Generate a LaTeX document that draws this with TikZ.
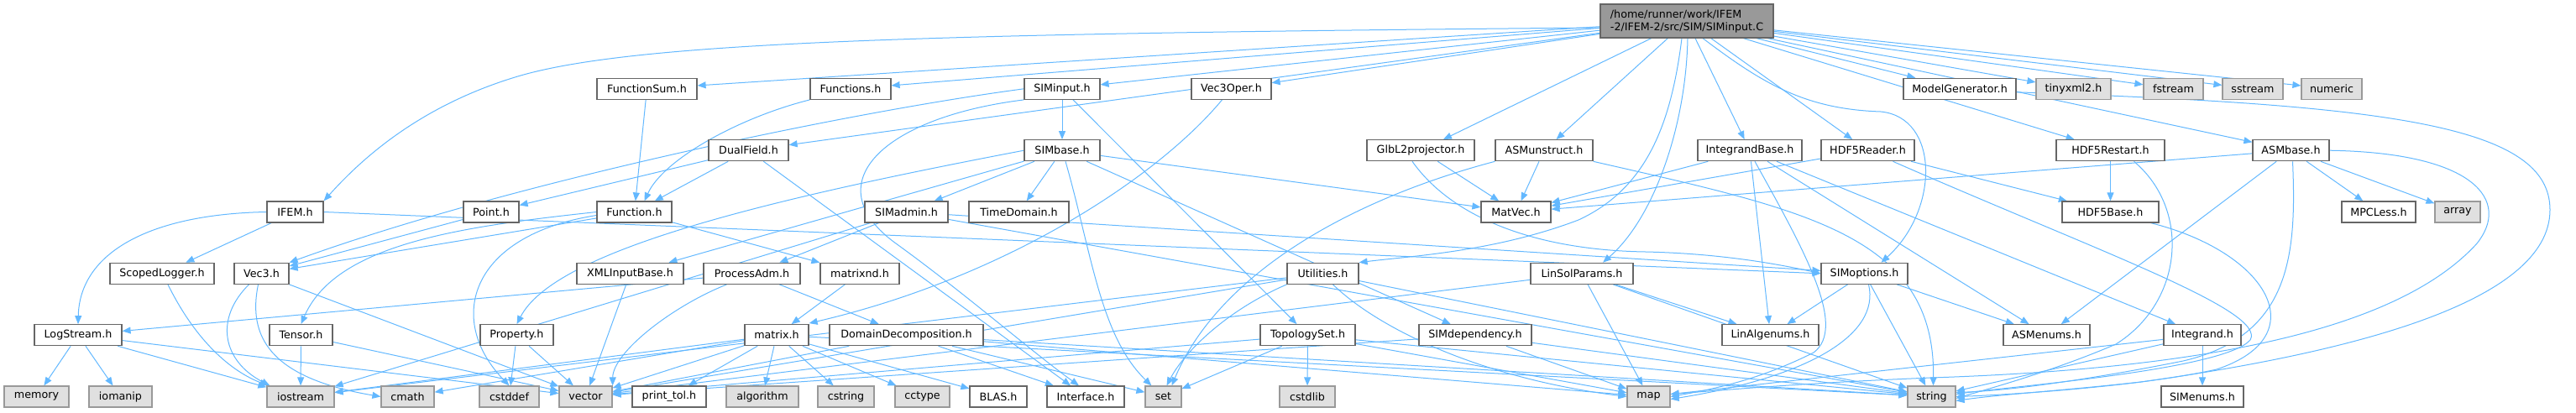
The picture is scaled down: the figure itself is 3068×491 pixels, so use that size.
\documentclass[tikz,border=0pt]{standalone}
\usepackage{fontspec}
\setmainfont{DejaVu Sans}
\usetikzlibrary{arrows.meta}
\definecolor{edgec}{HTML}{63B8FF}
\definecolor{bord}{HTML}{666666}
\definecolor{sysfill}{HTML}{E0E0E0}
\definecolor{sysbord}{HTML}{999999}
\definecolor{rootfill}{HTML}{999999}
\pgfdeclarelayer{background}
\pgfsetlayers{background,main}
\begin{document}
\begin{tikzpicture}[x=1pt,y=-1pt,
  box/.style={draw=bord, line width=1.2pt, fill=white, inner sep=0pt, minimum height=25pt,
    font=\fontsize{12.7}{15}\selectfont, anchor=center},
  sys/.style={box, draw=sysbord, fill=sysfill},
  edge/.style={draw=edgec, line width=1pt, -{Triangle[length=10pt,width=8pt]}}]
\useasboundingbox (0,0) rectangle (3068,491);
% root
\node[box, fill=rootfill, minimum width=206pt, minimum height=40pt, align=left] (root) at (2009,25) {/home/runner/work/IFEM\\-2/IFEM-2/src/SIM/SIMinput.C};
% row 1
\node[box, minimum width=119pt] (FunctionSum) at (770.5,105.8) {FunctionSum.h};
\node[box, minimum width=96pt] (Functions) at (1013,105.8) {Functions.h};
\node[box, minimum width=90pt] (SIMinput) at (1265,105.8) {SIMinput.h};
\node[box, minimum width=95pt] (Vec3Oper) at (1466.5,105.8) {Vec3Oper.h};
\node[box, minimum width=134pt] (ModelGenerator) at (2334,105.8) {ModelGenerator.h};
\node[sys, minimum width=89pt] (tinyxml2) at (2469.5,105.8) {tinyxml2.h};
\node[sys, minimum width=71pt] (fstream) at (2588.5,105.8) {fstream};
\node[sys, minimum width=72pt] (sstream) at (2683,105.8) {sstream};
\node[sys, minimum width=72pt] (numeric) at (2777,105.8) {numeric};
% row 2
\node[box, minimum width=95pt] (DualField) at (891.5,179.2) {DualField.h};
\node[box, minimum width=90pt] (SIMbase) at (1265,179.2) {SIMbase.h};
\node[box, minimum width=128pt] (GlbL2projector) at (1692,179.2) {GlbL2projector.h};
\node[box, minimum width=116pt] (ASMunstruct) at (1839,179.2) {ASMunstruct.h};
\node[box, minimum width=124pt] (IntegrandBase) at (2084,179.2) {IntegrandBase.h};
\node[box, minimum width=111pt] (HDF5Reader) at (2224.5,179.2) {HDF5Reader.h};
\node[box, minimum width=129pt] (HDF5Restart) at (2513.5,179.2) {HDF5Restart.h};
\node[box, minimum width=91pt] (ASMbase) at (2728.5,179.2) {ASMbase.h};
% row 3
\node[box, minimum width=67pt] (IFEM) at (351.5,252.5) {IFEM.h};
\node[box, minimum width=66pt] (Point) at (585,252.5) {Point.h};
\node[box, minimum width=89pt] (Function) at (755.5,252.5) {Function.h};
\node[box, minimum width=99pt] (SIMadmin) at (1079.5,252.5) {SIMadmin.h};
\node[box, minimum width=119pt] (TimeDomain) at (1213.5,252.5) {TimeDomain.h};
\node[box, minimum width=83pt] (MatVec) at (1805.5,252.5) {MatVec.h};
\node[box, minimum width=115pt] (HDF5Base) at (2513.5,252.5) {HDF5Base.h};
\node[box, minimum width=88pt] (MPCLess) at (2833,252.5) {MPCLess.h};
\node[sys, minimum width=54pt] (array) at (2927,252.5) {array};
% row 4
\node[box, minimum width=124pt] (ScopedLogger) at (193,325.8) {ScopedLogger.h};
\node[box, minimum width=65pt] (Vec3) at (311.5,325.8) {Vec3.h};
\node[box, minimum width=127pt] (XMLInputBase) at (750.5,325.8) {XMLInputBase.h};
\node[box, minimum width=115pt] (ProcessAdm) at (895.5,325.8) {ProcessAdm.h};
\node[box, minimum width=94pt] (matrixnd) at (1024,325.8) {matrixnd.h};
\node[box, minimum width=85pt] (Utilities) at (1575.5,325.8) {Utilities.h};
\node[box, minimum width=122pt] (LinSolParams) at (1884,325.8) {LinSolParams.h};
\node[box, minimum width=103pt] (SIMoptions) at (2220.5,325.8) {SIMoptions.h};
% row 5
\node[box, minimum width=104pt] (LogStream) at (93,399.2) {LogStream.h};
\node[box, minimum width=75pt] (Tensor) at (358.5,399.2) {Tensor.h};
\node[box, minimum width=87pt] (Property) at (615.5,399.2) {Property.h};
\node[box, minimum width=76pt] (matrix) at (925,399.2) {matrix.h};
\node[box, minimum width=183pt] (DomainDecomposition) at (1079.5,399.2) {DomainDecomposition.h};
\node[box, minimum width=113pt] (TopologySet) at (1557.5,399.2) {TopologySet.h};
\node[box, minimum width=134pt] (SIMdependency) at (1757,399.2) {SIMdependency.h};
\node[box, minimum width=115pt] (LinAlgenums) at (2108.5,399.2) {LinAlgenums.h};
\node[box, minimum width=103pt] (ASMenums) at (2437.5,399.2) {ASMenums.h};
\node[box, minimum width=92pt] (Integrand) at (2623,399.2) {Integrand.h};
% row 6
\node[sys, minimum width=77pt] (memory) at (43.5,472.5) {memory};
\node[sys, minimum width=75pt] (iomanip) at (143.5,472.5) {iomanip};
\node[sys, minimum width=80pt] (iostream) at (358,472.5) {iostream};
\node[sys, minimum width=63pt] (cmath) at (485.5,472.5) {cmath};
\node[sys, minimum width=71pt] (cstddef) at (606.5,472.5) {cstddef};
\node[sys, minimum width=63pt] (vector) at (697.5,472.5) {vector};
\node[box, minimum width=88pt] (printtol) at (797,472.5) {print\_tol.h};
\node[sys, minimum width=86pt] (algorithm) at (908,472.5) {algorithm};
\node[sys, minimum width=67pt] (cstring) at (1007.5,472.5) {cstring};
\node[sys, minimum width=65pt] (cctype) at (1098.5,472.5) {cctype};
\node[box, minimum width=68pt] (BLAS) at (1189,472.5) {BLAS.h};
\node[box, minimum width=92pt] (Interface) at (1293,472.5) {Interface.h};
\node[sys, minimum width=43pt] (set) at (1385.5,472.5) {set};
\node[sys, minimum width=66pt] (cstdlib) at (1557,472.5) {cstdlib};
\node[sys, minimum width=51pt] (map) at (1963.5,472.5) {map};
\node[sys, minimum width=57pt] (string) at (2300.5,472.5) {string};
\node[box, minimum width=98pt] (SIMenums) at (2623,472.5) {SIMenums.h};

\begin{pgfonlayer}{background}
% root edges
\foreach \t in {FunctionSum,Functions,SIMinput,Vec3Oper,DualField,GlbL2projector,ASMunstruct,IntegrandBase,HDF5Reader,HDF5Restart,ModelGenerator,tinyxml2,fstream,sstream,numeric,ASMbase}
  \draw[edge] (root) -- (\t);
\draw[edge] ([yshift=-8pt]root.west) .. controls (1100,40) and (760,50) .. (620,90) .. controls (500,125) and (430,190) .. (IFEM.north east);
\draw[edge] ([xshift=-6pt]root.south) .. controls (1990,150) and (1960,225) .. (1880,262) .. controls (1780,300) and (1680,305) .. (Utilities.north east);
\draw[edge] ([xshift=1pt]root.south) .. controls (2008,150) and (1970,260) .. ([xshift=25pt]LinSolParams.north);
\draw[edge] ([xshift=19pt]root.south) .. controls (2100,100) and (2150,130) .. (2240,133) .. controls (2310,140) and (2310,250) .. ([xshift=20pt]SIMoptions.north);
% IFEM
\draw[edge] (IFEM.west) .. controls (180,255) and (95,300) .. (LogStream.north);
\draw[edge] (IFEM) -- (ScopedLogger);
\draw[edge] (IFEM.east) -- (SIMoptions.west);
% loggers
\draw[edge] ([xshift=7pt]ScopedLogger.south) .. controls (230,400) and (270,440) .. ([xshift=2pt]iostream.north west);
\draw[edge] (LogStream) -- (memory);
\draw[edge] (LogStream) -- (iomanip);
\draw[edge] (LogStream) -- (iostream);
\draw[edge] (LogStream) -- (vector);
% Vec3, Tensor
\draw[edge] ([xshift=-15pt]Vec3.south) .. controls (255,380) and (265,430) .. ([xshift=4pt]iostream.north west);
\draw[edge] ([xshift=-4pt]Vec3.south) .. controls (295,400) and (320,450) .. (cmath.west);
\draw[edge] (Vec3.south east) -- (vector);
\draw[edge] (Tensor) -- (iostream);
\draw[edge] (Tensor) -- (vector);
% Point / Function
\draw[edge] (Point) -- (Vec3);
\draw[edge] (Function) -- (Vec3);
\draw[edge] (Function.west) .. controls (550,270) and (400,290) .. (Tensor.north);
\draw[edge] ([yshift=-4pt]Function.west) .. controls (560,280) and (530,380) .. (cstddef.north);
\draw[edge] (Function) -- (matrixnd);
\draw[edge] (FunctionSum) -- (Function);
\draw[edge] (Functions.south west) .. controls (880,140) and (790,190) .. ([xshift=12pt]Function.north);
% DualField
\draw[edge] (DualField) -- (Function);
\draw[edge] (DualField) -- (Point);
\draw[edge] (DualField) -- (Interface);
% SIMinput
\draw[edge] (SIMinput) -- (SIMbase);
\draw[edge] (SIMinput) -- (TopologySet);
\draw[edge] (SIMinput.west) .. controls (1000,135) and (600,220) .. (Vec3.north east);
\draw[edge] (SIMinput.south west) .. controls (1050,140) and (970,220) .. (1067,290) .. controls (1150,350) and (1230,420) .. ([xshift=-8pt]Interface.north);
% SIMbase
\draw[edge] (SIMbase) -- (SIMadmin);
\draw[edge] (SIMbase) -- (TimeDomain);
\draw[edge] ([xshift=4pt]SIMbase.south) .. controls (1300,300) and (1310,400) .. ([xshift=8pt]set.north west);
\draw[edge] (SIMbase) -- (MatVec);
\draw[edge] (SIMbase) -- (SIMdependency);
\draw[edge] (SIMbase.west) .. controls (900,240) and (660,300) .. (Property.north);
\draw[edge] (SIMbase) -- (XMLInputBase);
% SIMadmin
\draw[edge] (SIMadmin) -- (ProcessAdm);
\draw[edge] (SIMadmin) -- (SIMoptions);
\draw[edge] (SIMadmin) -- (iostream);
\draw[edge] (SIMadmin) -- (string);
\draw[edge] (XMLInputBase) -- (vector);
% ProcessAdm
\draw[edge] ([xshift=-30pt]ProcessAdm.south) .. controls (800,365) and (730,420) .. (vector.north east);
\draw[edge] (ProcessAdm) -- (LogStream);
\draw[edge] (ProcessAdm) -- (DomainDecomposition);
% matrix
\draw[edge] (matrixnd) -- (matrix);
\draw[edge] ([xshift=-11pt]Vec3Oper.south) .. controls (1380,210) and (1200,330) .. ([yshift=1pt]matrix.north east);
\foreach \t in {vector,printtol,algorithm,cstring,cctype,BLAS,iostream,cmath,string}
  \draw[edge] (matrix) -- (\t);
% DomainDecomposition
\foreach \t in {Interface,set,map,string,vector}
  \draw[edge] (DomainDecomposition) -- (\t);
% TopologySet
\foreach \t in {cstdlib,set,map,string,vector}
  \draw[edge] (TopologySet) -- (\t);
% SIMdependency
\foreach \t in {map,string,vector}
  \draw[edge] (SIMdependency) -- (\t);
% Utilities
\draw[edge] (Utilities) -- (vector);
\draw[edge] (Utilities) -- (iostream);
\draw[edge] (Utilities) -- (string);
\draw[edge] ([xshift=12pt]Utilities.south) .. controls (1640,390) and (1760,450) .. (map.west);
\draw[edge] (Utilities.south west) .. controls (1460,370) and (1410,420) .. ([xshift=4pt]set.north);
% LinSolParams
\foreach \t in {LinAlgenums,map,string,vector}
  \draw[edge] (LinSolParams) -- (\t);
% GlbL2projector
\draw[edge] (GlbL2projector) -- (MatVec);
\draw[edge] ([xshift=-10pt]GlbL2projector.south) .. controls (1730,260) and (1830,298) .. (1960,300) .. controls (2050,302) and (2120,315) .. (SIMoptions.west);
% ASMunstruct
\draw[edge] (ASMunstruct) -- (MatVec);
\draw[edge] (ASMunstruct.south west) .. controls (1600,240) and (1450,330) .. ([xshift=10pt]set.north);
\draw[edge] (ASMunstruct.south east) .. controls (2150,250) and (2305,280) .. ([xshift=2pt]string.north);
% IntegrandBase
\foreach \t in {MatVec,LinAlgenums,ASMenums,Integrand}
  \draw[edge] (IntegrandBase) -- (\t);
\draw[edge] ([xshift=6pt]IntegrandBase.south) .. controls (2150,300) and (2200,390) .. (2160,420) .. controls (2100,450) and (2050,462) .. (map.east);
% HDF5
\draw[edge] (HDF5Reader) -- (MatVec);
\draw[edge] (HDF5Reader) -- (HDF5Base);
\draw[edge] ([xshift=30pt]HDF5Reader.south) .. controls (2500,300) and (2700,370) .. (2680,405) .. controls (2650,440) and (2400,460) .. ([yshift=3pt]string.east);
\draw[edge] (HDF5Restart) -- (HDF5Base);
\draw[edge] ([xshift=28pt]HDF5Restart.south) .. controls (2610,250) and (2600,360) .. (2520,410) .. controls (2450,440) and (2380,460) .. ([yshift=-2pt]string.east);
\draw[edge] ([xshift=48pt]HDF5Base.south) .. controls (2700,300) and (2760,400) .. (2640,440) .. controls (2550,460) and (2400,470) .. (string.east);
% SIMoptions
\foreach \t in {LinAlgenums,ASMenums,string}
  \draw[edge] (SIMoptions) -- (\t);
\draw[edge] ([xshift=5pt]SIMoptions.south) .. controls (2240,400) and (2150,450) .. ([yshift=-3pt]map.east);
% ASMbase
\foreach \t in {MatVec,MPCLess,array,ASMenums}
  \draw[edge] (ASMbase) -- (\t);
\draw[edge] ([xshift=2pt]ASMbase.south) .. controls (2735,300) and (2730,400) .. (2600,430) .. controls (2500,450) and (2400,465) .. ([yshift=5pt]string.east);
\draw[edge] (ASMbase.east) .. controls (2950,182) and (2990,240) .. (2950,290) .. controls (2850,400) and (2600,440) .. (2300,450) .. controls (2150,456) and (2050,465) .. ([yshift=3pt]map.east);
% ModelGenerator
\draw[edge] ([yshift=-4pt]ModelGenerator.east) .. controls (2850,125) and (3037,150) .. (3037,250) .. controls (3037,360) and (2800,420) .. (2550,455) .. controls (2450,466) and (2380,470) .. ([yshift=-5pt]string.east);
% Integrand
\draw[edge] (Integrand) -- (SIMenums);
\draw[edge] (Integrand) -- (string);
\draw[edge] (Integrand) -- (map);
% Property
\draw[edge] (Property) -- (cstddef);
\draw[edge] (Property) -- (vector);
\end{pgfonlayer}
\end{tikzpicture}
\end{document}
